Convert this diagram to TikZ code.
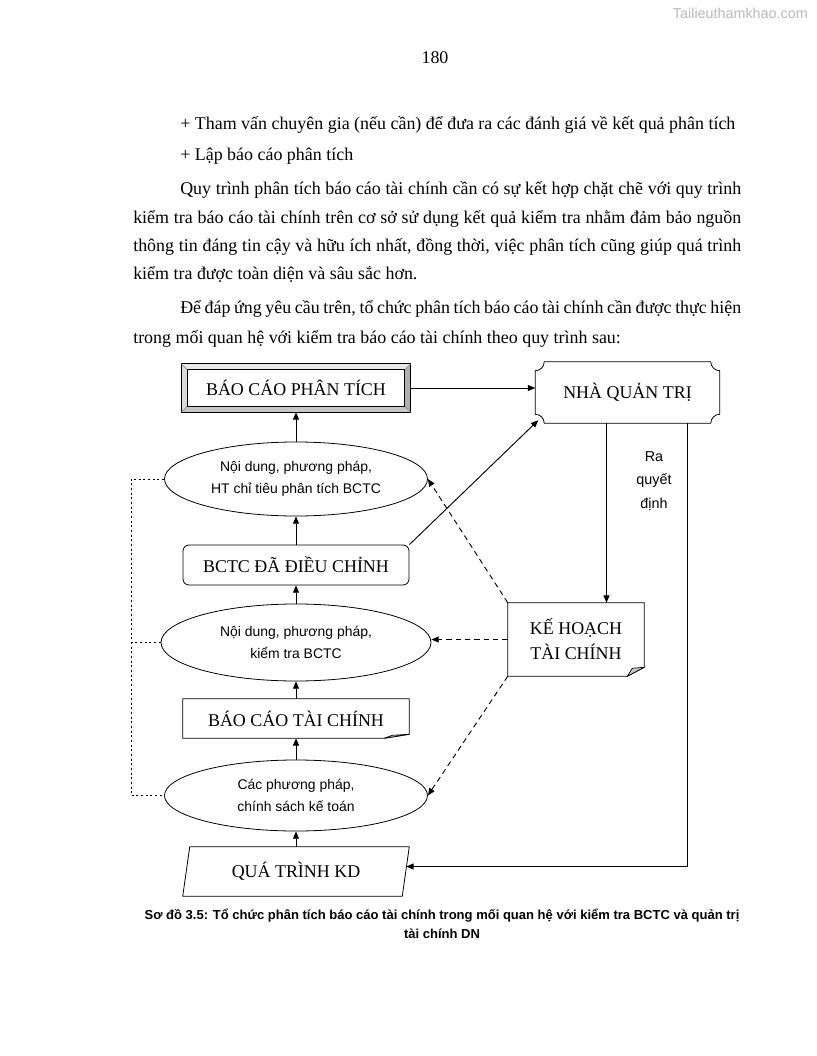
\documentclass[tikz,border=0pt]{standalone}
\usepackage{fontspec}
\setmainfont{Liberation Serif}
\setsansfont{Liberation Sans}
\usetikzlibrary{arrows.meta,shapes.geometric,positioning,calc}

\begin{document}
\begin{tikzpicture}[x=0.75bp, y=-0.75bp,
  body/.style={anchor=base west, inner sep=0pt, font=\fontsize{13.5}{16}\selectfont},
  boxtxt/.style={inner sep=0pt, align=center, font=\fontsize{13.5}{19}\selectfont},
  ell/.style={ellipse, draw, line width=0.6pt, inner sep=0pt, align=center,
              font=\sffamily\fontsize{10.5}{16.5}\selectfont},
  arr/.style={-{Triangle[length=5.5bp,width=4.5bp]}, line width=0.7pt},
  darr/.style={arr, dash pattern=on 4bp off 3bp},
  dotline/.style={line width=0.6pt, dash pattern=on 1.5bp off 2bp},
  fold/.style={fill=gray!45, draw, line width=0.5pt}
]
\useasboundingbox[fill=white] (0,0) rectangle (816,1056);

% page header
\node[anchor=base east, inner sep=0pt, text=gray!55, font=\sffamily\fontsize{10.8}{12}\selectfont]
  (wmark) at (808,19) {Tailieuthamkhao.com};
\node[anchor=base, inner sep=0pt, font=\fontsize{13.5}{16}\selectfont] (pageno) at (435,64) {180};

% text above the diagram
\node[body] (l1) at (180,130) {+ Tham vấn chuyên gia (nếu cần) để đưa ra các đánh giá về kết quả phân tích};
\node[body] (l2) at (180,161) {+ Lập báo cáo phân tích};
\node[body] (l3) at (180,195) {\makebox[420.75bp][s]{Quy trình phân tích báo cáo tài chính cần có sự kết hợp chặt chẽ với quy trình}};
\node[body] (l4) at (133,224) {\makebox[456bp][s]{kiểm tra báo cáo tài chính trên cơ sở sử dụng kết quả kiểm tra nhằm đảm bảo nguồn}};
\node[body] (l5) at (133,252) {\makebox[456bp][s]{thông tin đáng tin cậy và hữu ích nhất, đồng thời, việc phân tích cũng giúp quá trình}};
\node[body] (l6) at (133,280) {kiểm tra được toàn diện và sâu sắc hơn.};
\node[body] (l7) at (180,314) {\makebox[420.75bp][s]{Để đáp ứng yêu cầu trên, tổ chức phân tích báo cáo tài chính cần được thực hiện}};
\node[body] (l8) at (133,343) {trong mối quan hệ với kiểm tra báo cáo tài chính theo quy trình sau:};

% left column
\node[boxtxt, minimum width=171.75bp, minimum height=36bp] (bcpt) at (296,388) {BÁO CÁO PHÂN TÍCH};
\node[ell, minimum width=197.25bp, minimum height=55.5bp] (ndpp) at (296,479)
  {Nội dung, phương pháp,\\HT chỉ tiêu phân tích BCTC};
\node[boxtxt, draw, line width=0.6pt, rounded corners=4.5bp, minimum width=169.5bp, minimum height=30bp]
  (bctcdc) at (296,565) {BCTC ĐÃ ĐIỀU CHỈNH};
\node[ell, minimum width=202.5bp, minimum height=57.75bp] (ndkt) at (296,642.5)
  {Nội dung, phương pháp,\\kiểm tra BCTC};
\node[boxtxt, minimum width=169.5bp, minimum height=29.25bp] (bctc) at (296,718.5) {BÁO CÁO TÀI CHÍNH};
\node[ell, minimum width=197.25bp, minimum height=53.25bp] (ppkt) at (296,795.5)
  {Các phương pháp,\\chính sách kế toán};
\node[boxtxt, minimum width=169.5bp, minimum height=36.75bp] (qtkd) at (296,871.5) {QUÁ TRÌNH KD};

% right column
\node[boxtxt, minimum width=138bp, minimum height=45.75bp] (nqt) at (627.5,392.5) {NHÀ QUẢN TRỊ};
\node[boxtxt, minimum width=102bp, minimum height=54.75bp] (khtc) at (576,639.5) {KẾ HOẠCH\\TÀI CHÍNH};
\node[align=center, inner sep=0pt, font=\sffamily\fontsize{10.8}{17.5}\selectfont] (rqd) at (654,481) {Ra\\quyết\\định};

% bevelled frame
\fill[gray!18] (bcpt.north west) -- (bcpt.north east) -- ([shift={(-6,6)}]bcpt.north east) -- ([shift={(6,6)}]bcpt.north west) -- cycle;
\fill[gray!28] (bcpt.north west) -- ([shift={(6,6)}]bcpt.north west) -- ([shift={(6,-6)}]bcpt.south west) -- (bcpt.south west) -- cycle;
\fill[gray!62] (bcpt.north east) -- (bcpt.south east) -- ([shift={(-6,-6)}]bcpt.south east) -- ([shift={(-6,6)}]bcpt.north east) -- cycle;
\fill[gray!45] (bcpt.south west) -- (bcpt.south east) -- ([shift={(-6,-6)}]bcpt.south east) -- ([shift={(6,-6)}]bcpt.south west) -- cycle;
\draw[line width=0.6pt] (bcpt.north west) rectangle (bcpt.south east);
\draw[line width=0.6pt] ([shift={(6,6)}]bcpt.north west) rectangle ([shift={(-6,-6)}]bcpt.south east);
\draw[gray, line width=0.4pt] (bcpt.north west) -- ([shift={(6,6)}]bcpt.north west)
  (bcpt.north east) -- ([shift={(-6,6)}]bcpt.north east)
  (bcpt.south west) -- ([shift={(6,-6)}]bcpt.south west)
  (bcpt.south east) -- ([shift={(-6,-6)}]bcpt.south east);

% plaque
\draw[line width=0.6pt] ([shift={(0,9)}]nqt.north west) .. controls ([shift={(5,9)}]nqt.north west) and ([shift={(9,5)}]nqt.north west) .. ([shift={(9,0)}]nqt.north west)
  -- ([shift={(-9,0)}]nqt.north east) .. controls ([shift={(-9,5)}]nqt.north east) and ([shift={(-5,9)}]nqt.north east) .. ([shift={(0,9)}]nqt.north east)
  -- ([shift={(0,-9)}]nqt.south east) .. controls ([shift={(-5,-9)}]nqt.south east) and ([shift={(-9,-5)}]nqt.south east) .. ([shift={(-9,0)}]nqt.south east)
  -- ([shift={(9,0)}]nqt.south west) .. controls ([shift={(9,-5)}]nqt.south west) and ([shift={(5,-9)}]nqt.south west) .. ([shift={(0,-9)}]nqt.south west)
  -- cycle;

% documents with folded corner
\draw[line width=0.6pt] (bctc.north west) -- (bctc.north east) -- ([shift={(0,-4)}]bctc.south east)
  -- ([shift={(-25,0)}]bctc.south east) -- (bctc.south west) -- cycle;
\draw[fold] ([shift={(-25,0)}]bctc.south east) -- ([shift={(0,-4)}]bctc.south east) -- ([shift={(-17,-3)}]bctc.south east) -- cycle;
\draw[line width=0.6pt] (khtc.north west) -- (khtc.north east) -- ([shift={(0,-9)}]khtc.south east)
  -- ([shift={(-17,0)}]khtc.south east) -- (khtc.south west) -- cycle;
\draw[fold] ([shift={(-17,0)}]khtc.south east) -- ([shift={(0,-9)}]khtc.south east) -- ([shift={(-12,-8)}]khtc.south east) -- cycle;

% parallelogram
\draw[line width=0.6pt] ([shift={(7,0)}]qtkd.north west) -- (qtkd.north east)
  -- ([shift={(-7,0)}]qtkd.south east) -- (qtkd.south west) -- cycle;

% connectors
\draw[arr] (bcpt.east) -- (bcpt.east -| nqt.west);
\draw[arr] (ndpp) -- (bcpt);
\draw[arr] (bctcdc) -- (ndpp);
\draw[arr] (bctcdc.north east) -- ([shift={(3,-3)}]nqt.south west);
\draw[arr] (ndkt) -- (bctcdc);
\draw[arr] (bctc) -- (ndkt);
\draw[arr] (ppkt) -- (bctc);
\draw[arr] (qtkd) -- (ppkt);
\draw[arr] ([xshift=-15.75bp]nqt.south) -- ([xshift=-15.75bp]nqt.south |- khtc.north);
\draw[arr] ([xshift=45bp]nqt.south) |- ([shift={(-3,-5)}]qtkd.east);
\draw[darr] (khtc.north west) -- (ndpp.east);
\draw[darr] (khtc.west) -- (khtc.west -| ndkt.east);
\draw[darr] (khtc.south west) -- (ppkt.east);
\draw[dotline] (ndpp.west) -- ++(-33,0) coordinate (dl) |- (ppkt.west);
\draw[dotline] (ndkt.west) -- (ndkt.west -| dl);

% caption
\node[align=center, inner sep=0pt, font=\sffamily\bfseries\fontsize{9.8}{14}\selectfont] (cap) at (442,924)
  {Sơ đồ 3.5: Tổ chức phân tích báo cáo tài chính trong mối quan hệ với kiểm tra BCTC và quản trị\\tài chính DN};
\end{tikzpicture}
\end{document}
